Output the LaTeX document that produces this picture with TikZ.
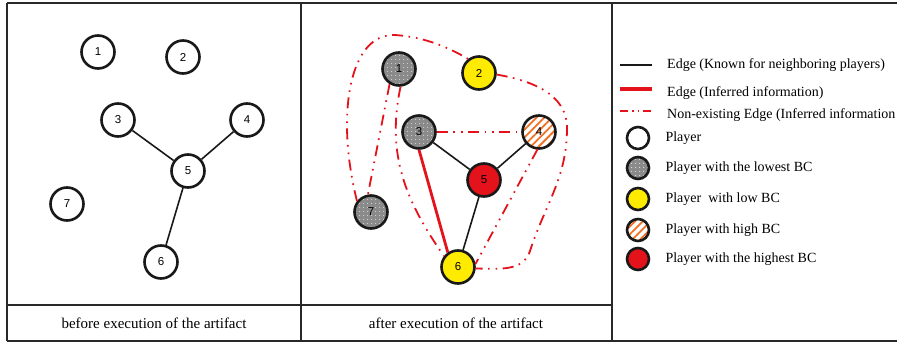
\documentclass[tikz,border=0pt]{standalone}
\usepackage{fontspec}
\setmainfont{Liberation Serif}
\newfontfamily\numfont{Liberation Sans}
\usetikzlibrary{patterns, patterns.meta, positioning}
\definecolor{bcgray}{RGB}{138,138,138}
\definecolor{bcred}{RGB}{228,18,26}
\definecolor{bcyellow}{RGB}{255,235,0}
\definecolor{bcorange}{RGB}{242,112,34}
\definecolor{rulegray}{RGB}{40,40,40}

\tikzset{
  player/.style={circle, draw=black!90, line width=2.6pt, minimum size=33pt, inner sep=0pt, font=\numfont\fontsize{11.5}{13}\selectfont},
  plain/.style={player, fill=white},
  lowest/.style={player, preaction={fill=bcgray}, pattern={Dots[distance=4pt, radius=0.6pt]}, pattern color=white},
  low/.style={player, fill=bcyellow},
  high/.style={player, preaction={fill=white}, pattern={Lines[angle=45, distance=5.5pt, line width=1.8pt]}, pattern color=bcorange},
  highest/.style={player, fill=bcred},
  legsize/.style={minimum size=22pt},
  known/.style={draw=black!90, line width=1.6pt},
  inferred/.style={draw=bcred, line width=2.8pt},
  nonexist/.style={draw=bcred, line width=1.8pt, dash pattern=on 11pt off 5.5pt on 1.6pt off 6pt on 1.6pt off 5.5pt},
  rule/.style={draw=rulegray, line width=1.1pt},
  caption/.style={font=\fontsize{15}{18}\selectfont},
  legtext/.style={anchor=west, inner sep=0pt, font=\fontsize{14}{16}\selectfont}
}

\begin{document}
\begin{tikzpicture}[x=1pt, y=1pt]
	\useasboundingbox (0,0) rectangle (897,343);
	% table rules
	\draw[rule] (7,340) -- (897,340);
	\draw[rule] (7,2) -- (897,2);
	\draw[rule] (7,38) -- (612,38);
	\foreach \x in {7,301,612}{
		\draw[rule] (\x,2) -- (\x,340);
	}
	% captions
	\node[caption] (capa) at (154,20) {before execution of the artifact};
	\node[caption] (capb) at (456,20) {after execution of the artifact};
	%
	% before execution
	\foreach \n/\x/\y in {1/98/291, 2/183/286, 3/118/223, 4/247/223, 5/188/172, 6/161/81, 7/67/139}{
		\node[plain] (a\n) at (\x,\y) {\n};
	}
	\foreach \i in {3,4,6}{
		\draw[known] (a5) -- (a\i);
	}
	%
	% after execution
	\node[lowest] (b1) at (399,274) {1};
	\node[low] (b2) at (479,270) {2};
	\node[lowest] (b3) at (419,211) {3};
	\node[high] (b4) at (539,211) {4};
	\node[highest] (b5) at (484,163) {5};
	\node[low] (b6) at (458,76) {6};
	\node[lowest] (b7) at (371,131) {7};
	\foreach \i in {3,4,6}{
		\draw[known] (b5) -- (b\i);
	}
	\draw[inferred] (b3.-90) -- (b6.125);
	\draw[nonexist] (b3) -- (b4);
	\draw[nonexist] (b1.238) -- (b7.100);
	\draw[nonexist] (b1.-85) to [out=-102, in=125] (b6.142);
	\draw[nonexist] (b4.-95) -- (b6.10);
	% outer loops
	\draw[nonexist] (b7.142) .. controls (335,230) and (350,310) .. (395,308) .. controls (425,306) and (450,295) .. (b2.128);
	\draw[nonexist] (b2.-5) to [out=-10, in=90] (567,215) to [out=-90, in=72] (530,92) to [out=-108, in=0] (b6.-5);
	%
	% legend:
	\foreach \s/\y in {known/278, inferred/254, nonexist/232}{
		\coordinate (ls\s) at (620,\y);
		\coordinate (le\s) at (652,\y);
	}
	\draw[known] (lsknown) -- (leknown);
	\draw[inferred, line width=3.2pt] (lsinferred) -- (leinferred);
	\draw[nonexist, dash pattern=on 8pt off 4pt on 1.6pt off 4pt on 1.6pt off 4pt] (lsnonexist) -- (lenonexist);
	\node[legtext] (lt1) at (667,278) {Edge (Known for neighboring players)};
	\node[legtext] (lt2) at (667,250) {Edge (Inferred information)};
	\node[legtext] (lt3) at (667,228) {Non-existing Edge (Inferred information};
	\foreach \s/\y/\t [count=\k] in {plain/205/Player, lowest/175/Player with the lowest BC, low/144/Player\ \ with low BC, high/113/Player with high BC, highest/84/Player with the highest BC}{
		\node[\s, legsize] (l\k) at (638,\y) {};
		\node[legtext, right=15pt of l\k] (lp\k) {\t};
	}
\end{tikzpicture}
\end{document}
